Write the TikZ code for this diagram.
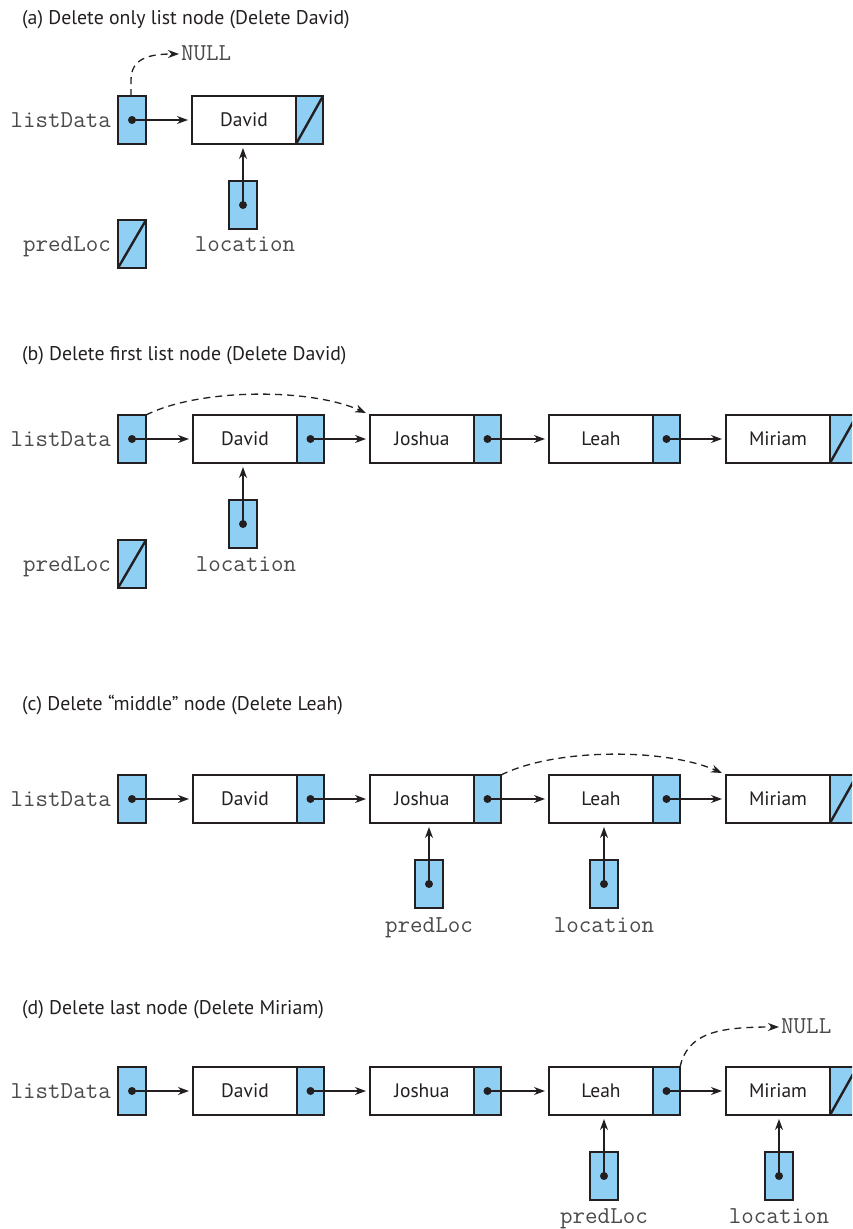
\documentclass[tikz,border=0pt]{standalone}
\usepackage{fontspec}
\setmainfont{PT Sans}
\usetikzlibrary{arrows.meta}
\definecolor{boxc}{HTML}{231F20}
\definecolor{bluec}{HTML}{8FCFF3}
\definecolor{monoc}{HTML}{4A4A4A}
\tikzset{
  boxbase/.style={draw=boxc, line width=2.4pt, outer sep=0pt, inner sep=0pt},
  datab/.style={boxbase, fill=white, minimum width=104pt, minimum height=48pt, font=\fontsize{19.5}{22}\selectfont, text=boxc},
  nextb/.style={boxbase, fill=bluec, minimum width=27pt, minimum height=48pt, anchor=west},
  ptrb/.style={boxbase, fill=bluec, minimum width=28pt, minimum height=48pt},
  arr/.style={draw=boxc, line width=1.3pt, -{Stealth[length=11pt,width=8pt,inset=3.5pt]}, shorten >=4pt},
  darr/.style={arr, dash pattern=on 7pt off 5pt, shorten >=0pt},
  dotc/.style={fill=boxc},
  lbl/.style={font=\ttfamily\fontsize{24.3}{27}\selectfont, text=monoc, inner sep=0pt},
  ttl/.style={font=\fontsize{19.8}{22}\selectfont, text=boxc, inner sep=0pt, anchor=base west},
}
\begin{document}
\begin{tikzpicture}[x=1pt,y=-1pt]
\useasboundingbox (0,0) rectangle (852,1229);
\clip (0,0) rectangle (852,1229);
% ---------------- (a)
\node[ttl] (ta) at (22,24) {(a) Delete only list node (Delete David)};
\node[ptrb] (aL) at (132,120) {};
\node[lbl, anchor=base east] (aLl) at (111,127) {listData};
\node[datab] (a1) at (244,120) {David};
\node[nextb] (a1n) at (a1.east) {};
\draw[boxc, line width=2.4pt] (a1n.south west) -- (a1n.north east);
\draw[arr] (aL.center) -- (a1.west);
\fill[dotc] (aL.center) circle (4pt);
\node[lbl, anchor=base west] (aN) at (181,60) {NULL};
\coordinate (aNw) at (179,54);
\draw[darr] ([xshift=-1pt]aL.north) -- ++(0,-16) .. controls (131,58) and (150,54) .. (aNw);
\node[ptrb] (aLoc) at (243,205) {};
\node[lbl, anchor=base] (aLocl) at (245,251) {location};
\draw[arr] (aLoc.center) -- (a1.south -| aLoc.center);
\fill[dotc] (aLoc.center) circle (4pt);
\node[ptrb] (aP) at (132,244) {};
\draw[boxc, line width=2.4pt] (aP.south west) -- (aP.north east);
\node[lbl, anchor=base east] (aPl) at (111,251) {predLoc};
% ---------------- (b)
\node[ttl] (tb) at (22,360) {(b) Delete first list node (Delete David)};
\node[ptrb] (bL) at (132,439) {};
\node[lbl, anchor=base east] (bLl) at (111,446) {listData};
\node[datab] (b1) at (245,439) {David};
\node[nextb] (b1n) at (b1.east) {};
\node[datab] (b2) at (422,439) {Joshua};
\node[nextb] (b2n) at (b2.east) {};
\node[datab] (b3) at (601,439) {Leah};
\node[nextb] (b3n) at (b3.east) {};
\node[datab] (b4) at (778,439) {Miriam};
\node[nextb] (b4n) at (b4.east) {};
\draw[boxc, line width=2.4pt] (b4n.south west) -- (b4n.north east);
\draw[arr] (bL.center) -- (b1.west);
\draw[arr] (b1n.center) -- (b2.west);
\draw[arr] (b2n.center) -- (b3.west);
\draw[arr] (b3n.center) -- (b4.west);
\foreach \n in {bL,b1n,b2n,b3n} \fill[dotc] (\n.center) circle (4pt);
\draw[darr] (bL.north east) .. controls (200,388) and (310,388) .. ([xshift=-4pt,yshift=2pt]b2.north west);
\node[ptrb] (bLoc) at (243,524) {};
\node[lbl, anchor=base] (bLocl) at (246,571) {location};
\draw[arr] (bLoc.center) -- (b1.south -| bLoc.center);
\fill[dotc] (bLoc.center) circle (4pt);
\node[ptrb] (bP) at (132,564) {};
\draw[boxc, line width=2.4pt] (bP.south west) -- (bP.north east);
\node[lbl, anchor=base east] (bPl) at (111,571) {predLoc};
% ---------------- (c)
\node[ttl] (tc) at (22,710) {(c) Delete “middle” node (Delete Leah)};
\node[ptrb] (cL) at (132,799) {};
\node[lbl, anchor=base east] (cLl) at (111,806) {listData};
\node[datab] (c1) at (245,799) {David};
\node[nextb] (c1n) at (c1.east) {};
\node[datab] (c2) at (422,799) {Joshua};
\node[nextb] (c2n) at (c2.east) {};
\node[datab] (c3) at (601,799) {Leah};
\node[nextb] (c3n) at (c3.east) {};
\node[datab] (c4) at (778,799) {Miriam};
\node[nextb] (c4n) at (c4.east) {};
\draw[boxc, line width=2.4pt] (c4n.south west) -- (c4n.north east);
\draw[arr] (cL.center) -- (c1.west);
\draw[arr] (c1n.center) -- (c2.west);
\draw[arr] (c2n.center) -- (c3.west);
\draw[arr] (c3n.center) -- (c4.west);
\foreach \n in {cL,c1n,c2n,c3n} \fill[dotc] (\n.center) circle (4pt);
\draw[darr] (c2n.north east) .. controls (555,748) and (665,748) .. ([xshift=-4pt,yshift=2pt]c4.north west);
\node[ptrb] (cP) at (429,884) {};
\node[lbl, anchor=base] (cPl) at (429,932) {predLoc};
\draw[arr] (cP.center) -- (c2.south -| cP.center);
\fill[dotc] (cP.center) circle (4pt);
\node[ptrb] (cLoc) at (604,884) {};
\node[lbl, anchor=base] (cLocl) at (604,932) {location};
\draw[arr] (cLoc.center) -- (c3.south -| cLoc.center);
\fill[dotc] (cLoc.center) circle (4pt);
% ---------------- (d)
\node[ttl] (td) at (22,1014) {(d) Delete last node (Delete Miriam)};
\node[ptrb] (dL) at (132,1091) {};
\node[lbl, anchor=base east] (dLl) at (111,1098) {listData};
\node[datab] (d1) at (245,1091) {David};
\node[nextb] (d1n) at (d1.east) {};
\node[datab] (d2) at (422,1091) {Joshua};
\node[nextb] (d2n) at (d2.east) {};
\node[datab] (d3) at (601,1091) {Leah};
\node[nextb] (d3n) at (d3.east) {};
\node[datab] (d4) at (778,1091) {Miriam};
\node[nextb] (d4n) at (d4.east) {};
\draw[boxc, line width=2.4pt] (d4n.south west) -- (d4n.north east);
\draw[arr] (dL.center) -- (d1.west);
\draw[arr] (d1n.center) -- (d2.west);
\draw[arr] (d2n.center) -- (d3.west);
\draw[arr] (d3n.center) -- (d4.west);
\foreach \n in {dL,d1n,d2n,d3n} \fill[dotc] (\n.center) circle (4pt);
\node[lbl, anchor=base west] (dN) at (781,1033) {NULL};
\coordinate (dNw) at (779,1027);
\draw[darr] (d3n.north east) .. controls (688,1032) and (720,1027) .. (dNw);
\node[ptrb] (dP) at (604,1176) {};
\node[lbl, anchor=base] (dPl) at (604,1223) {predLoc};
\draw[arr] (dP.center) -- (d3.south -| dP.center);
\fill[dotc] (dP.center) circle (4pt);
\node[ptrb] (dLoc) at (779,1176) {};
\node[lbl, anchor=base] (dLocl) at (779,1223) {location};
\draw[arr] (dLoc.center) -- (d4.south -| dLoc.center);
\fill[dotc] (dLoc.center) circle (4pt);
\end{tikzpicture}
\end{document}
